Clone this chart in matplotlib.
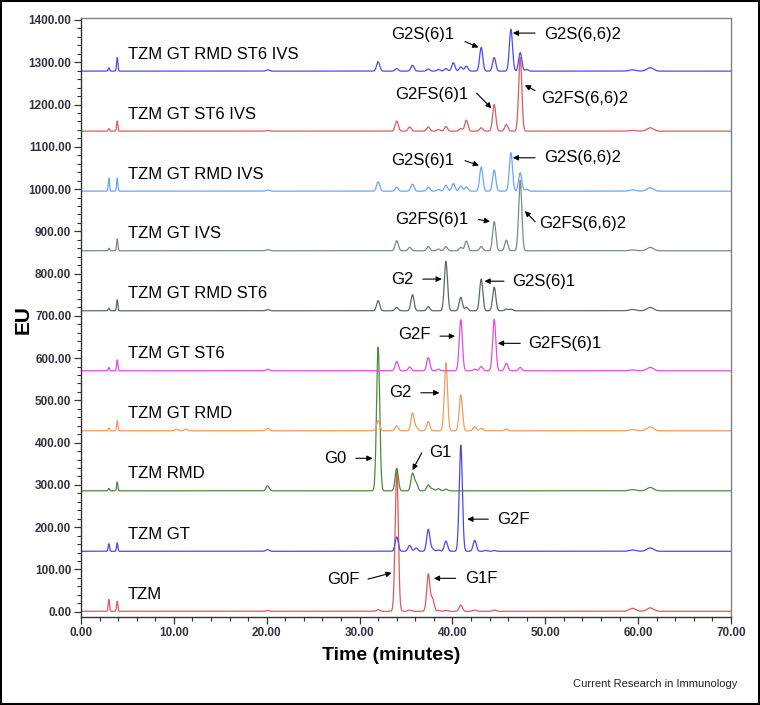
import numpy as np
import matplotlib
matplotlib.use("Agg")
import matplotlib.pyplot as plt
from matplotlib.patches import Rectangle

plt.rcParams['font.family'] = ['Liberation Sans', 'DejaVu Sans']

# retention times of the peaks seen in the traces (minutes)
peak_times = [3.0, 3.9, 10.3, 11.3, 20.1, 32.0, 34.0, 35.4, 35.7, 36.1, 37.4, 37.85, 38.5,
              39.3, 40.1, 40.9, 41.5, 42.4, 43.1, 43.6, 44.5, 45.8, 46.3, 47.3, 48.0, 59.4, 61.3]

# sample names, bottom to top
samples = ["TZM", "TZM GT", "TZM RMD", "TZM GT RMD", "TZM GT ST6", "TZM GT RMD ST6",
           "TZM GT IVS", "TZM GT RMD IVS", "TZM GT ST6 IVS", "TZM GT RMD ST6 IVS"]
baselines = [1, 143, 286, 428, 570, 712, 854, 995, 1137, 1279]
colors = ["#dc5a5a", "#4848f0", "#4f8a3c", "#ee9c5c", "#e04ee0", "#5c6868",
          "#788c86", "#6aa6f8", "#e05a5a", "#4a4af8"]

# peak heights (EU) per sample, same order as peak_times
h_tzm = [28, 24, 0, 0, 2, 4, 337, 3, 0, 0, 88, 30, 2, 2, 0, 15, 0, 3, 0, 0, 3, 0, 0, 0, 0, 7, 8]
h_gt = [18, 20, 0, 0, 4, 0, 34, 14, 0, 8, 52, 6, 3, 24, 0, 251, 0, 26, 0, 2, 2, 0, 0, 0, 0, 3, 8]
h_rmd = [6, 21, 0, 0, 12, 340, 53, 0, 41, 18, 14, 5, 5, 4, 0, 0, 0, 0, 0, 0, 0, 0, 0, 0, 0, 3, 8]
h_gt_rmd = [7, 24, 4, 4, 6, 24, 12, 0, 42, 8, 22, 0, 0, 161, 0, 85, 0, 10, 6, 0, 0, 4, 0, 0, 0, 3, 9]
h_gt_st6 = [8, 26, 0, 0, 4, 0, 22, 9, 0, 0, 31, 0, 4, 0, 0, 121, 0, 4, 10, 0, 122, 18, 0, 8, 0, 2, 8]
h_gt_rmd_st6 = [6, 26, 0, 0, 3, 24, 8, 0, 38, 0, 10, 0, 0, 117, 0, 32, 8, 0, 75, 0, 56, 4, 4, 0, 0, 3, 8]
h_gt_ivs = [6, 28, 0, 0, 3, 0, 24, 8, 0, 0, 10, 0, 4, 10, 0, 8, 23, 0, 10, 0, 69, 25, 0, 167, 0, 2, 8]
h_gt_rmd_ivs = [31, 31, 0, 0, 3, 22, 9, 0, 17, 0, 9, 0, 4, 14, 18, 12, 10, 0, 57, 0, 50, 0, 91, 44, 5, 3, 8]
h_gt_st6_ivs = [6, 24, 0, 0, 2, 0, 24, 10, 0, 0, 10, 0, 4, 11, 0, 6, 26, 0, 8, 0, 63, 16, 0, 174, 0, 2, 8]
h_gt_rmd_st6_ivs = [8, 32, 0, 0, 3, 22, 6, 0, 14, 0, 5, 0, 4, 6, 20, 10, 12, 0, 56, 0, 32, 0, 99, 44, 4, 3, 8]
heights = [h_tzm, h_gt, h_rmd, h_gt_rmd, h_gt_st6, h_gt_rmd_st6,
           h_gt_ivs, h_gt_rmd_ivs, h_gt_st6_ivs, h_gt_rmd_st6_ivs]

# peak labels: (text, text pos, arrow tail, arrow head) in data coords
annotations = [
    ("G2S(6)1", (36.8, 1365), (41.35, 1349), (42.8, 1335)),
    ("G2S(6,6)2", (54.0, 1365), (48.9, 1369), (46.5, 1369)),
    ("G2FS(6)1", (37.8, 1224), (42.6, 1227), (44.2, 1191)),
    ("G2FS(6,6)2", (54.2, 1215), (48.9, 1233), (47.8, 1246)),
    ("G2S(6)1", (36.8, 1067), (41.35, 1067), (42.86, 1056)),
    ("G2S(6,6)2", (54.0, 1074), (48.9, 1074), (46.5, 1074)),
    ("G2FS(6)1", (37.8, 927), (42.8, 928), (44.05, 923)),
    ("G2FS(6,6)2", (54.0, 919), (48.9, 923), (47.8, 948)),
    ("G2", (34.6, 787), (36.8, 787), (38.85, 787)),
    ("G2S(6)1", (49.8, 782), (45.55, 782), (43.45, 782)),
    ("G2F", (35.9, 655), (38.66, 652), (40.28, 652)),
    ("G2FS(6)1", (52.1, 635), (47.3, 635), (44.9, 635)),
    ("G2", (34.4, 518), (36.6, 518), (38.6, 518)),
    ("G0", (27.4, 363), (29.6, 363), (31.4, 363)),
    ("G1", (38.7, 376), (36.7, 376), (35.7, 335)),
    ("G2F", (46.6, 219), (43.86, 219), (41.6, 219)),
    ("G0F", (28.2, 77), (30.9, 77), (33.45, 92)),
    ("G1F", (43.1, 79), (40.35, 79), (38.0, 79)),
]


def peak_width(t):
    if t < 5:
        return 0.07
    if t > 55:
        return 0.35
    return 0.17


t = np.linspace(0, 70, 14001)

fig = plt.figure(figsize=(7.6, 7.05), dpi=100)
ax = fig.add_axes([81 / 760, 1 - 617 / 705, 650 / 760, (617 - 18.3) / 705])

for name, base, col, hs in zip(samples, baselines, colors, heights):
    y = np.full_like(t, float(base))
    for pt, ph in zip(peak_times, hs):
        if ph:
            s = peak_width(pt)
            y += ph * np.exp(-0.5 * ((t - pt) / s) ** 2)
    ax.plot(t, y, color=col, lw=0.9)
    ax.text(5.06, base + 40, name, fontsize=12, va='center', ha='left')

for label, tp, tail, head in annotations:
    ax.text(tp[0], tp[1], label, fontsize=12, ha='center', va='center')
    ax.annotate('', xy=head, xytext=tail,
                arrowprops=dict(arrowstyle='-|>', color='black', lw=0.8,
                                mutation_scale=8, shrinkA=0, shrinkB=0))

ax.set_xlim(0, 70)
ax.set_ylim(-12.5, 1404)
ax.set_xticks(np.arange(0, 71, 10))
ax.set_xticks(np.arange(0, 71, 2), minor=True)
ax.set_yticks(np.arange(0, 1401, 100))
ax.set_yticks(np.arange(0, 1401, 20), minor=True)
ax.set_xticklabels([f"{v:.2f}" for v in np.arange(0, 71, 10)])
ax.set_yticklabels([f"{v:.2f}" for v in np.arange(0, 1401, 100)])
ax.tick_params(which='major', length=5, width=0.9, color='#333333',
               labelsize=8.5, labelcolor='#333340', pad=2)
ax.tick_params(which='minor', length=3, width=0.8, color='#333333')
for lab in ax.get_xticklabels() + ax.get_yticklabels():
    lab.set_fontweight('bold')
for sp in ax.spines.values():
    sp.set_color('#808080')
    sp.set_linewidth(1.0)
ax.spines['left'].set_color('#333333')
ax.spines['bottom'].set_color('#333333')

fig.text(23 / 760, 1 - 320 / 705, "EU", fontsize=15, fontweight='bold',
         rotation=90, ha='center', va='center')
fig.text(391 / 760, 1 - 655 / 705, "Time (minutes)", fontsize=14, fontweight='bold',
         ha='center', va='center', family=['Liberation Sans Narrow', 'Liberation Sans'])
fig.text(737 / 760, 1 - 684 / 705, "Current Research in Immunology", fontsize=8,
         ha='right', va='center', color='#222222')

fig.patches.append(Rectangle((0.001, 0.001), 0.998, 0.998, transform=fig.transFigure,
                             fill=False, edgecolor='black', lw=1.5))

fig.savefig("out.png", dpi=100)
